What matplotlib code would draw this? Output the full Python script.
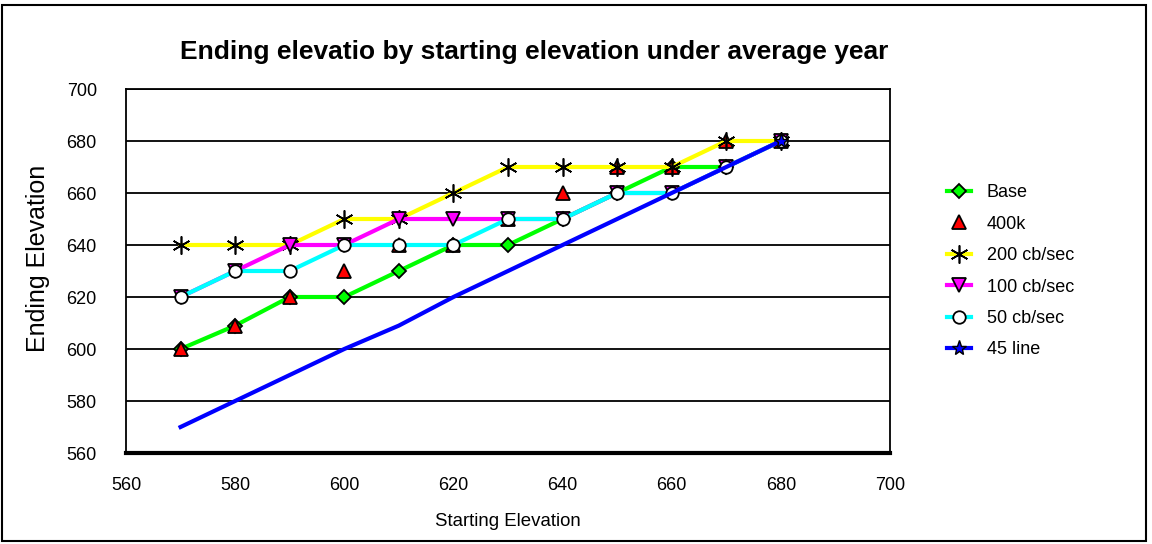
import matplotlib.pyplot as plt
from matplotlib.patches import Rectangle

plt.rcParams['font.family'] = ['Liberation Sans', 'DejaVu Sans']

start = [570, 580, 590, 600, 610, 620, 630, 640, 650, 660, 670, 680]
base = [600, 609, 620, 620, 630, 640, 640, 650, 660, 670, 670, 680]
k400 = [600, 609, 620, 630, 640, 640, 650, 660, 670, 670, 680, 680]
cb200 = [640, 640, 640, 650, 650, 660, 670, 670, 670, 670, 680, 680]
cb100 = [620, 630, 640, 640, 650, 650, 650, 650, 660, 660, 670, 680]
cb50 = [620, 630, 630, 640, 640, 640, 650, 650, 660, 660, 670, 680]
line45 = [570, 580, 590, 600, 609, 620, 630, 640, 650, 660, 670, 680]

W, H = 1152, 544
fig = plt.figure(figsize=(W / 100, H / 100), dpi=100)
ax = fig.add_axes([126 / W, 1 - 453 / H, (890 - 126) / W, (453 - 89) / H])

# outer chart border
fig.patches.append(Rectangle((2 / W, 3 / H), (1146 - 2) / W, (539 - 3) / H,
                             transform=fig.transFigure, fill=False,
                             edgecolor='black', linewidth=1.5))

lw = 3
ms = 8
asterisk = (6, 2, 0)
ax.plot(start, base, color='#00ff00', lw=lw, marker='D', ms=ms - 0.5,
        mfc='#00ff00', mec='black', mew=1.3, label='Base', zorder=3)
ax.plot(start, k400, linestyle='none', marker='^', ms=ms + 1.5,
        mfc='red', mec='black', mew=1.3, label='400k', zorder=4)
ax.plot(start, cb200, color='#ffff00', lw=lw, marker=asterisk, ms=ms + 5,
        mec='black', mew=1.2, label='200 cb/sec', zorder=5)
ax.plot(start, cb100, color='#ff00ff', lw=lw, marker='v', ms=ms + 1.5,
        mfc='#ff00ff', mec='black', mew=1.3, label='100 cb/sec', zorder=6)
ax.plot(start, cb50, color='#00ffff', lw=lw, marker='o', ms=ms + 1,
        mfc='white', mec='black', mew=1.3, label='50 cb/sec', zorder=7)
ax.plot(start, line45, color='#0000ff', lw=lw, marker='*', ms=ms + 3,
        mfc='#0000ff', mec='black', mew=1.0, markevery=[11],
        label='45 line', zorder=8)

ax.set_xlim(560, 700)
ax.set_ylim(560, 700)
ax.set_xticks(range(560, 701, 20))
ax.set_yticks(range(560, 701, 20))
ax.yaxis.grid(True, color='black', linewidth=1.3)
ax.set_axisbelow(True)
ax.tick_params(length=0, labelsize=13)
ax.tick_params(axis='y', pad=21)
ax.tick_params(axis='x', pad=17)
for side in ['left', 'top', 'right']:
    ax.spines[side].set_linewidth(1.3)
ax.spines['bottom'].set_linewidth(3)

ax.set_xlabel('Starting Elevation', fontsize=13.4, labelpad=14)
fig.text(38 / W, 1 - 258 / H, 'Ending Elevation', fontsize=18,
         rotation=90, ha='center', va='center')
fig.text(534 / W, 1 - 52 / H,
         'Ending elevatio by starting elevation under average year',
         fontsize=19, fontweight='bold', ha='center', va='center')

fig.legend(loc='upper left', bbox_to_anchor=(940 / W, 1 - 177 / H),
           frameon=False, fontsize=13, handlelength=1.3, handletextpad=0.9,
           labelspacing=0.8, borderaxespad=0)

fig.savefig('out.png', dpi=100)
